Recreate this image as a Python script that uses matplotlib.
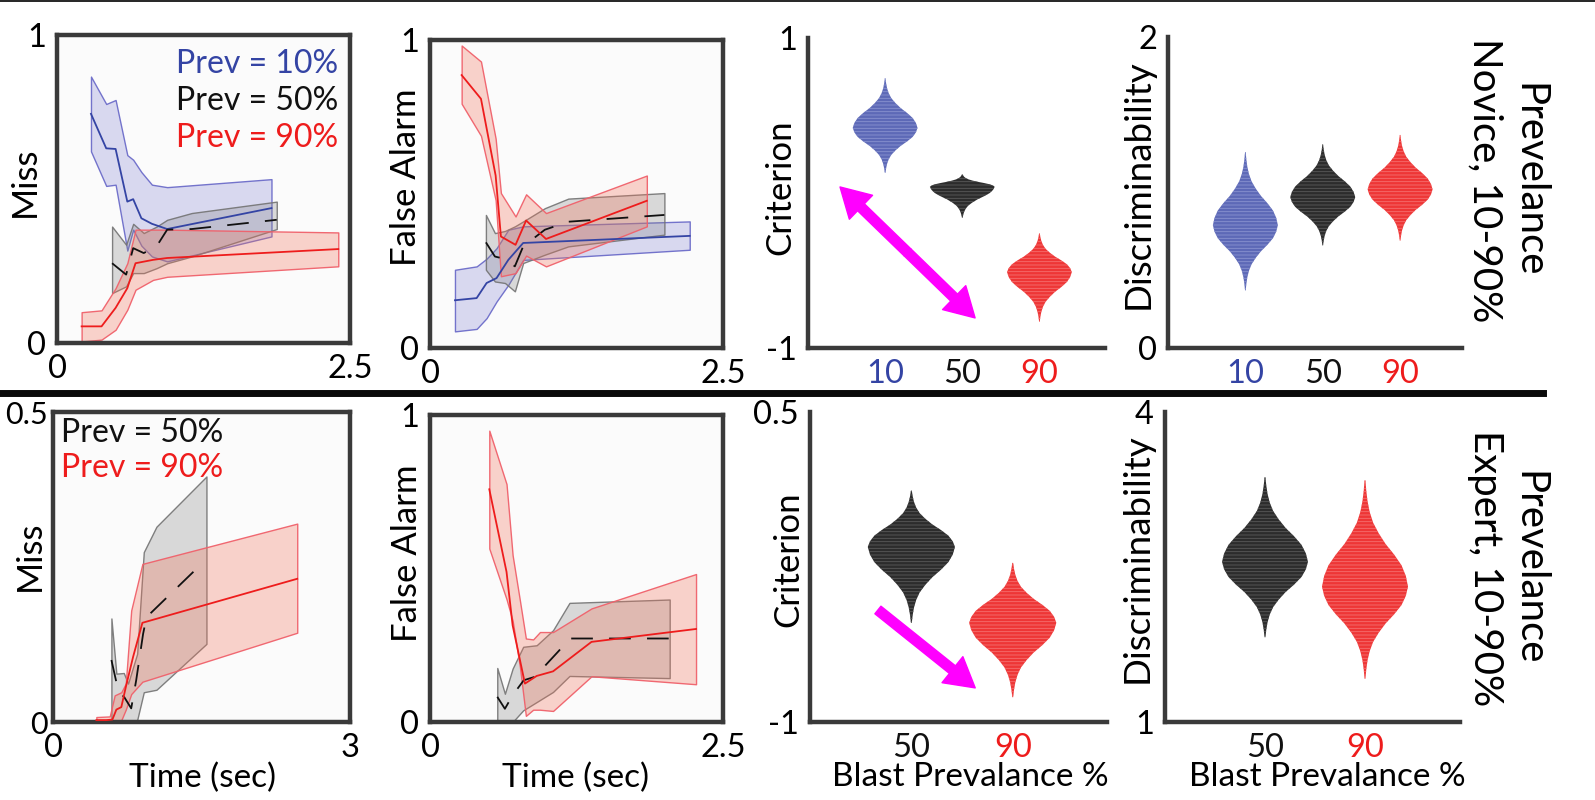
#! /usr/bin/env python3

import numpy as np
import matplotlib.pyplot as plt
from matplotlib.lines import Line2D
from matplotlib.patches import FancyArrowPatch

W, H = 1595, 800

# ---- time-course data (novice, miss) ----
NM10_T = [0.29, 0.42, 0.50, 0.60, 0.65, 0.72, 0.81, 0.94, 1.83]
NM10_MEAN = [0.744, 0.632, 0.630, 0.459, 0.467, 0.405, 0.387, 0.370, 0.438]
NM10_HI = [0.865, 0.776, 0.789, 0.610, 0.595, 0.555, 0.514, 0.506, 0.532]
NM10_LO = [0.622, 0.510, 0.514, 0.300, 0.368, 0.316, 0.281, 0.265, 0.346]

NM50_T = [0.47, 0.59, 0.65, 0.74, 0.85, 0.94, 1.15, 1.875]
NM50_MEAN = [0.259, 0.222, 0.308, 0.292, 0.314, 0.368, 0.370, 0.400]
NM50_HI = [0.378, 0.319, 0.387, 0.357, 0.378, 0.400, 0.422, 0.459]
NM50_LO = [0.162, 0.184, 0.227, 0.227, 0.243, 0.259, 0.281, 0.370]

NM90_T = [0.21, 0.38, 0.50, 0.60, 0.67, 0.82, 0.94, 2.40]
NM90_MEAN = [0.054, 0.054, 0.114, 0.178, 0.259, 0.270, 0.276, 0.305]
NM90_HI = [0.100, 0.106, 0.178, 0.259, 0.368, 0.368, 0.368, 0.359]
NM90_LO = [0.005, 0.011, 0.043, 0.108, 0.173, 0.205, 0.215, 0.249]

# ---- novice, false alarm ----
NF10_T = [0.213, 0.398, 0.483, 0.568, 0.668, 0.795, 2.216]
NF10_MEAN = [0.155, 0.162, 0.211, 0.227, 0.286, 0.341, 0.364]
NF10_HI = [0.254, 0.265, 0.290, 0.324, 0.384, 0.395, 0.411]
NF10_LO = [0.054, 0.062, 0.097, 0.151, 0.205, 0.286, 0.319]

NF50_T = [0.477, 0.554, 0.64, 0.724, 0.795, 0.98, 1.18, 2.00]
NF50_MEAN = [0.343, 0.297, 0.289, 0.265, 0.330, 0.384, 0.410, 0.432]
NF50_HI = [0.432, 0.373, 0.380, 0.395, 0.411, 0.454, 0.485, 0.503]
NF50_LO = [0.254, 0.216, 0.211, 0.184, 0.276, 0.303, 0.330, 0.368]

NF90_T = [0.27, 0.435, 0.56, 0.605, 0.73, 0.82, 0.99, 1.85]
NF90_MEAN = [0.886, 0.809, 0.560, 0.362, 0.335, 0.414, 0.354, 0.478]
NF90_HI = [0.982, 0.930, 0.680, 0.503, 0.427, 0.499, 0.438, 0.560]
NF90_LO = [0.793, 0.689, 0.480, 0.233, 0.243, 0.300, 0.265, 0.395]

# ---- expert, miss ----
EM50_T = [0.59, 0.66, 0.72, 0.79, 0.84, 0.91, 0.944, 1.52]
EM50_MEAN = [0.100, 0.050, 0.040, 0.022, 0.067, 0.142, 0.169, 0.258]
EM50_BT = [0.59, 0.64, 0.715, 0.758, 0.85, 0.917, 1.045, 1.55]
EM50_HI = [0.167, 0.078, 0.079, 0.062, 0.110, 0.274, 0.315, 0.396]
EM50_LO = [0.003, 0.0, 0.0, 0.002, 0.003, 0.048, 0.052, 0.126]

EM90_T = [0.438, 0.539, 0.60, 0.64, 0.69, 0.735, 0.809, 0.903, 2.467]
EM90_MEAN = [0.003, 0.003, 0.004, 0.020, 0.024, 0.056, 0.105, 0.160, 0.231]
EM90_BT = [0.438, 0.573, 0.623, 0.69, 0.735, 0.79, 0.903, 2.467]
EM90_HI = [0.008, 0.009, 0.043, 0.048, 0.062, 0.180, 0.255, 0.320]
EM90_LO = [0.0, 0.0, 0.0, 0.003, 0.020, 0.045, 0.065, 0.144]

# ---- expert, false alarm ----
EF50_T = [0.574, 0.639, 0.705, 0.80, 0.91, 0.986, 1.10, 1.19, 2.045]
EF50_MEAN = [0.082, 0.043, 0.087, 0.136, 0.149, 0.185, 0.232, 0.272, 0.272]
EF50_BT = [0.574, 0.639, 0.705, 0.795, 0.91, 1.05, 1.19, 2.045]
EF50_HI = [0.176, 0.092, 0.174, 0.245, 0.250, 0.299, 0.388, 0.399]
EF50_LO = [0.0, 0.0, 0.0, 0.038, 0.065, 0.098, 0.150, 0.143]

EF90_T = [0.506, 0.653, 0.705, 0.81, 0.91, 1.05, 1.378, 2.27]
EF90_MEAN = [0.758, 0.489, 0.315, 0.125, 0.150, 0.165, 0.261, 0.303]
EF90_BT = [0.506, 0.653, 0.705, 0.767, 0.818, 0.88, 0.938, 1.05, 1.378, 2.27]
EF90_HI = [0.949, 0.775, 0.543, 0.396, 0.272, 0.269, 0.293, 0.293, 0.370, 0.482]
EF90_LO = [0.565, 0.400, 0.330, 0.180, 0.020, 0.040, 0.040, 0.036, 0.149, 0.123]

# ---- posterior violins ----
NOVICE_PREV = ['10', '50', '90']
EXPERT_PREV = ['50', '90']

NOV_CRIT_CENTER = [0.42, 0.04, -0.51]
NOV_CRIT_TOP = [0.74, 0.12, -0.26]
NOV_CRIT_BOTTOM = [0.13, -0.16, -0.83]

NOV_DPRIME_CENTER = [0.79, 0.97, 1.02]
NOV_DPRIME_TOP = [1.26, 1.31, 1.37]
NOV_DPRIME_BOTTOM = [0.37, 0.66, 0.69]

EXP_CRIT_CENTER = [-0.153, -0.52]
EXP_CRIT_TOP = [0.12, -0.23]
EXP_CRIT_BOTTOM = [-0.52, -0.88]

EXP_DPRIME_CENTER = [2.55, 2.31]
EXP_DPRIME_TOP = [3.37, 3.34]
EXP_DPRIME_BOTTOM = [1.82, 1.42]

# violin outline: relative width vs. relative distance to tip
PROFILE_Z = np.array([0, 0.1, 0.2, 0.3, 0.4, 0.5, 0.6, 0.7, 0.8, 0.9, 1.0])
PROFILE_W = np.array([1.0, 0.95, 0.85, 0.68, 0.48, 0.32, 0.19, 0.11, 0.06, 0.03, 0.01])

BLUE = '#3444a4'
RED = '#ee1c1c'
BLACK = '#111111'
SPINE = '#3a3a3a'

SERIES_STYLE = {
	'blue': dict(line=BLUE, fill=(0.45, 0.45, 0.80, 0.25), edge=(0.40, 0.40, 0.78, 0.9), dashed=False),
	'black': dict(line=BLACK, fill=(0.50, 0.50, 0.50, 0.28), edge=(0.45, 0.45, 0.45, 0.9), dashed=True),
	'red': dict(line=RED, fill=(0.95, 0.45, 0.35, 0.30), edge=(0.94, 0.38, 0.42, 0.95), dashed=False),
}
VIOLIN_STYLE = {
	'blue': ('#5d69b7', '#8a93cf'),
	'black': ('#2c2c2c', '#5a5a5a'),
	'red': ('#ee3636', '#f57070'),
}
TICK_COLOR = {'10': BLUE, '50': BLACK, '90': RED}

plt.rcParams['font.family'] = ['Lato', 'DejaVu Sans']
plt.rcParams['hatch.linewidth'] = 0.6

fig = plt.figure(figsize=(W / 100, H / 100), dpi=100)


def add_panel(left, top, right, bottom):
	return fig.add_axes([left / W, 1 - bottom / H, (right - left) / W, (bottom - top) / H])


def fxy(x, y):
	return x / W, 1 - y / H


def style_axes(ax, boxed):
	for side in ['left', 'right', 'top', 'bottom']:
		ax.spines[side].set_linewidth(3.2)
		ax.spines[side].set_color(SPINE)
	if boxed:
		ax.set_facecolor('#fbfbfb')
	else:
		ax.spines['top'].set_visible(False)
		ax.spines['right'].set_visible(False)
	ax.tick_params(length=0, pad=8, labelsize=23.5)


def set_ylabel(ax, text, x, y, size=25):
	ax.set_ylabel(text, fontsize=size, va='center')
	ax.yaxis.set_label_coords(*fxy(x, y), transform=fig.transFigure)


def set_xlabel(ax, text, x, baseline):
	ax.set_xlabel(text, fontsize=24, va='baseline')
	ax.xaxis.set_label_coords(*fxy(x, baseline), transform=fig.transFigure)


def draw_series(ax, layers):
	for t, mean, bt, lo, hi, key in layers:
		s = SERIES_STYLE[key]
		ax.fill_between(bt, lo, hi, facecolor=s['fill'], edgecolor=s['edge'], linewidth=1.0, zorder=2)
	for t, mean, bt, lo, hi, key in layers:
		s = SERIES_STYLE[key]
		ls = (0, (12, 9)) if s['dashed'] else '-'
		ax.plot(t, mean, color=s['line'], lw=1.3, ls=ls, zorder=3)


def draw_violins(ax, labels, centers, tops, bottoms, half_width):
	for i, (lab, c, top, bot) in enumerate(zip(labels, centers, tops, bottoms)):
		key = {'10': 'blue', '50': 'black', '90': 'red'}[lab]
		face, stripe = VIOLIN_STYLE[key]
		y = np.concatenate([c - PROFILE_Z[::-1] * (c - bot), c + PROFILE_Z[1:] * (top - c)])
		w = np.concatenate([PROFILE_W[::-1], PROFILE_W[1:]]) * half_width
		ax.fill_betweenx(y, i + 1 - w, i + 1 + w, facecolor=face, edgecolor=stripe, hatch='-----', linewidth=0)
	ax.set_xticks(range(1, len(labels) + 1))
	ax.set_xticklabels(labels)
	for lab in ax.get_xticklabels():
		lab.set_color(TICK_COLOR[lab.get_text()])


def magenta_arrow(ax, start, end):
	arrow = FancyArrowPatch(start, end, arrowstyle='Simple, tail_width=7, head_width=24, head_length=21',
							mutation_scale=1, color='#ff00ff', shrinkA=0, shrinkB=0, zorder=4)
	ax.add_patch(arrow)


# ---------------- top row: novice ----------------
ax1 = add_panel(57, 35, 350, 343)
style_axes(ax1, True)
draw_series(ax1, [
	(NM10_T, NM10_MEAN, NM10_T, NM10_LO, NM10_HI, 'blue'),
	(NM50_T, NM50_MEAN, NM50_T, NM50_LO, NM50_HI, 'black'),
	(NM90_T, NM90_MEAN, NM90_T, NM90_LO, NM90_HI, 'red'),
])
ax1.set_xlim(0, 2.5)
ax1.set_ylim(0, 1)
ax1.set_xticks([0, 2.5], ['0', '2.5'])
ax1.set_yticks([0, 1], ['0', '1'])
set_ylabel(ax1, 'Miss', 25, 182)
for txt, col, yb in [('Prev = 10%', BLUE, 73), ('Prev = 50%', BLACK, 110), ('Prev = 90%', RED, 147)]:
	ax1.text(*fxy(338, yb), txt, color=col, fontsize=23, ha='right', va='baseline', transform=fig.transFigure)

ax2 = add_panel(430, 40, 723, 348)
style_axes(ax2, True)
draw_series(ax2, [
	(NF10_T, NF10_MEAN, NF10_T, NF10_LO, NF10_HI, 'blue'),
	(NF50_T, NF50_MEAN, NF50_T, NF50_LO, NF50_HI, 'black'),
	(NF90_T, NF90_MEAN, NF90_T, NF90_LO, NF90_HI, 'red'),
])
ax2.set_xlim(0, 2.5)
ax2.set_ylim(0, 1)
ax2.set_xticks([0, 2.5], ['0', '2.5'])
ax2.set_yticks([0, 1], ['0', '1'])
set_ylabel(ax2, 'False Alarm', 406, 177)

ax3 = add_panel(808, 38, 1105, 348)
style_axes(ax3, False)
draw_violins(ax3, NOVICE_PREV, NOV_CRIT_CENTER, NOV_CRIT_TOP, NOV_CRIT_BOTTOM, 0.42)
ax3.set_xlim(0, 3.85)
ax3.set_ylim(-1, 1)
ax3.set_yticks([-1, 1], ['-1', '1'])
set_ylabel(ax3, 'Criterion', 780, 187)
magenta_arrow(ax3, (1.29, -0.383), (0.415, 0.039))
magenta_arrow(ax3, (1.29, -0.383), (2.166, -0.806))

ax4 = add_panel(1168, 37, 1462, 348)
style_axes(ax4, False)
draw_violins(ax4, NOVICE_PREV, NOV_DPRIME_CENTER, NOV_DPRIME_TOP, NOV_DPRIME_BOTTOM, 0.42)
ax4.set_xlim(0, 3.8)
ax4.set_ylim(0, 2)
ax4.set_yticks([0, 2], ['0', '2'])
set_ylabel(ax4, 'Discriminability', 1138, 184, size=26.5)
fig.text(*fxy(1507, 180), 'Prevelance\nNovice, 10-90%', rotation=-90, fontsize=29,
		 ha='center', va='center', multialignment='center', linespacing=1.2)

# ---------------- bottom row: expert ----------------
ax5 = add_panel(53, 412, 350, 722)
style_axes(ax5, True)
draw_series(ax5, [
	(EM50_T, EM50_MEAN, EM50_BT, EM50_LO, EM50_HI, 'black'),
	(EM90_T, EM90_MEAN, EM90_BT, EM90_LO, EM90_HI, 'red'),
])
ax5.set_xlim(0, 3)
ax5.set_ylim(0, 0.5)
ax5.set_xticks([0, 3], ['0', '3'])
ax5.set_yticks([0, 0.5], ['0', '0.5'])
ax5.tick_params(axis='y', pad=4, labelsize=22)
set_ylabel(ax5, 'Miss', 30, 556)
set_xlabel(ax5, 'Time (sec)', 203, 787)
for txt, col, yb in [('Prev = 50%', BLACK, 442), ('Prev = 90%', RED, 477)]:
	ax5.text(*fxy(61, yb), txt, color=col, fontsize=23, ha='left', va='baseline', transform=fig.transFigure)

ax6 = add_panel(430, 415, 723, 722)
style_axes(ax6, True)
draw_series(ax6, [
	(EF50_T, EF50_MEAN, EF50_BT, EF50_LO, EF50_HI, 'black'),
	(EF90_T, EF90_MEAN, EF90_BT, EF90_LO, EF90_HI, 'red'),
])
ax6.set_xlim(0, 2.5)
ax6.set_ylim(0, 1)
ax6.set_xticks([0, 2.5], ['0', '2.5'])
ax6.set_yticks([0, 1], ['0', '1'])
set_ylabel(ax6, 'False Alarm', 407, 553)
set_xlabel(ax6, 'Time (sec)', 575, 787)

ax7 = add_panel(810, 412, 1107, 722)
style_axes(ax7, False)
draw_violins(ax7, EXPERT_PREV, EXP_CRIT_CENTER, EXP_CRIT_TOP, EXP_CRIT_BOTTOM, 0.43)
ax7.set_xlim(0, 2.93)
ax7.set_ylim(-1, 0.5)
ax7.set_yticks([-1, 0.5], ['-1', '0.5'])
set_ylabel(ax7, 'Criterion', 788, 559)
set_xlabel(ax7, 'Blast Prevalance %', 970, 786)
magenta_arrow(ax7, (0.67, -0.458), (1.63, -0.835))

ax8 = add_panel(1165, 412, 1460, 722)
style_axes(ax8, False)
draw_violins(ax8, EXPERT_PREV, EXP_DPRIME_CENTER, EXP_DPRIME_TOP, EXP_DPRIME_BOTTOM, 0.43)
ax8.set_xlim(0, 2.95)
ax8.set_ylim(1, 4)
ax8.set_yticks([1, 4], ['1', '4'])
set_ylabel(ax8, 'Discriminability', 1137, 558, size=26.5)
set_xlabel(ax8, 'Blast Prevalance %', 1327, 786)
fig.text(*fxy(1507, 568), 'Prevelance\nExpert, 10-90%', rotation=-90, fontsize=29,
		 ha='center', va='center', multialignment='center', linespacing=1.2)

# separators
fig.add_artist(Line2D([0, 1], [1 - 0.8 / H] * 2, lw=1.2, color='black'))
fig.add_artist(Line2D([0, 1543 / W], [1 - 392.5 / H] * 2, lw=5, color='#0a0a0a'))

plt.savefig('out.png', dpi=100)
